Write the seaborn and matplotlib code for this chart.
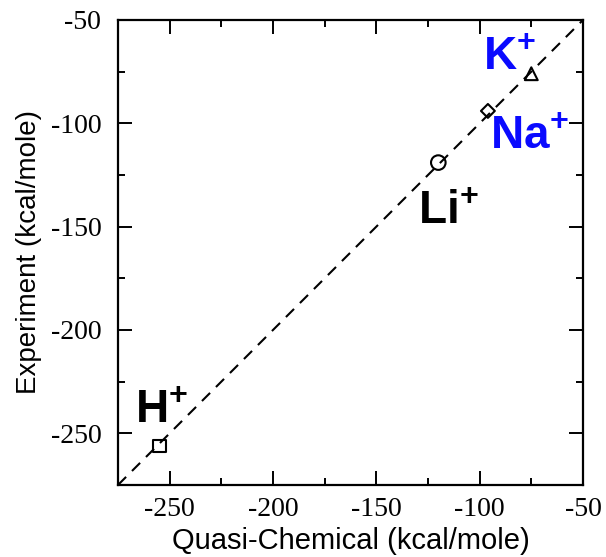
import numpy as np
import pandas as pd
import seaborn as sns
import matplotlib.pyplot as plt
from matplotlib.ticker import MultipleLocator

# data
ions = ["H", "Li", "Na", "K"]
quasi_chem = [-255, -120, -96, -75]     # kcal/mole
experiment = [-256, -119, -94, -76]     # kcal/mole
ion_markers = {"H": "s", "Li": "o", "Na": "D", "K": "^"}
ion_sizes = {"H": 80, "Li": 110, "Na": 50, "K": 85}
ion_colors = {"H": "black", "Li": "black", "Na": "#0a0aff", "K": "#0a0aff"}
diag = [-275, -50]

sns.set_style("ticks")
plt.rcParams["font.family"] = ["Liberation Sans", "DejaVu Sans"]
plt.rcParams["mathtext.fontset"] = "custom"
plt.rcParams["mathtext.bf"] = "Liberation Sans:bold"
plt.rcParams["mathtext.rm"] = "Liberation Sans"
plt.rcParams["axes.unicode_minus"] = False
for k in ["text.color", "axes.labelcolor", "xtick.color", "ytick.color", "axes.edgecolor"]:
    plt.rcParams[k] = "black"

df = pd.DataFrame({"ion": ions, "quasi": quasi_chem, "expt": experiment})

fig = plt.figure(figsize=(6.06, 5.57), dpi=100)
ax = fig.add_axes([0.1947, 0.1293, 0.7673, 0.8348])

sns.lineplot(x=diag, y=diag, ax=ax, color="black", lw=1.5,
             linestyle=(0, (5.5, 4)))
sns.scatterplot(data=df, x="quasi", y="expt", style="ion", markers=ion_markers,
                size="ion", sizes=ion_sizes,
                facecolor="none", edgecolor="black", linewidth=1.5,
                legend=False, ax=ax)

# ion labels (centres in data units)
label_pos = {"H": (-254, -239), "Li": (-115, -143), "Na": (-76, -106.5), "K": (-85.5, -68.5)}
for ion in ions:
    x, y = label_pos[ion]
    ax.text(x, y, r"$\mathbf{%s^{+}}$" % ion, fontsize=33,
            color=ion_colors[ion], ha="center", va="center")

ax.set_xlim(-275, -50)
ax.set_ylim(-275, -50)
ax.xaxis.set_major_locator(MultipleLocator(50))
ax.xaxis.set_minor_locator(MultipleLocator(25))
ax.yaxis.set_major_locator(MultipleLocator(50))
ax.yaxis.set_minor_locator(MultipleLocator(25))
ax.tick_params(which="both", direction="in", top=True, right=True, width=1.4)
ax.tick_params(which="major", length=10, labelsize=20, pad=9)
ax.tick_params(which="minor", length=5)
ax.tick_params(axis="y", which="major", pad=12)
for lab in ax.get_xticklabels() + ax.get_yticklabels():
    lab.set_family("Liberation Serif")
for sp in ax.spines.values():
    sp.set_linewidth(1.6)

ax.set_xlabel("Quasi-Chemical (kcal/mole)", fontsize=21, labelpad=3)
ax.set_ylabel("Experiment (kcal/mole)", fontsize=20, labelpad=6)

fig.savefig("out.png", dpi=100)
